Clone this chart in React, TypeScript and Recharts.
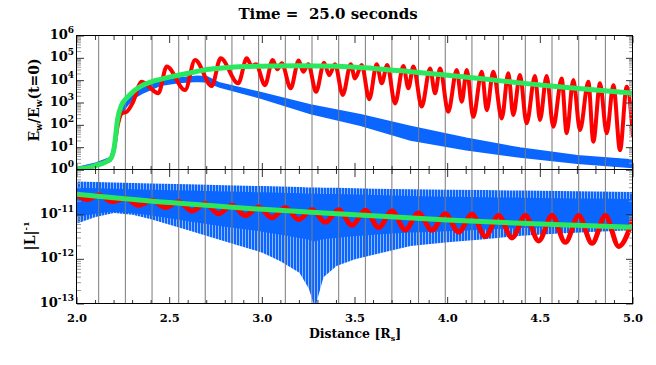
import React from 'react'
import { ComposedChart, Line, Area, XAxis, YAxis, ReferenceLine } from 'recharts'

// vertical wavelength markers (distance in R_s)
const markerX = [
  2.117, 2.261, 2.405, 2.549, 2.692, 2.836, 2.98, 3.124, 3.268, 3.412,
  3.556, 3.699, 3.843, 3.987, 4.131, 4.275, 4.419, 4.563, 4.707, 4.851,
]

const xTicks = [
  2.0, 2.1, 2.2, 2.3, 2.4, 2.5, 2.6, 2.7, 2.8, 2.9, 3.0, 3.1, 3.2, 3.3, 3.4, 3.5,
  3.6, 3.7, 3.8, 3.9, 4.0, 4.1, 4.2, 4.3, 4.4, 4.5, 4.6, 4.7, 4.8, 4.9, 5.0,
]
const xLabels = [2.0, 2.5, 3.0, 3.5, 4.0, 4.5, 5.0]

const topDecades = [0, 1, 2, 3, 4, 5, 6]
const botDecades = [-13, -12, -11, -10]
const botLabeled = [-13, -12, -11]

// top panel, log10(E_w / E_w(t=0)) : [distance, exponent]
const topGreen: [number, number][] = [
  [2.0, 0.03], [2.1, 0.2], [2.18, 0.49], [2.2, 0.97], [2.22, 2.32], [2.24, 2.9],
  [2.27, 3.24], [2.3, 3.49], [2.35, 3.78], [2.4, 3.95], [2.45, 4.06], [2.5, 4.16],
  [2.6, 4.33], [2.7, 4.5], [2.8, 4.58], [2.9, 4.63], [3.0, 4.65], [3.2, 4.67],
  [3.4, 4.65], [3.6, 4.55], [3.8, 4.4], [4.0, 4.24], [4.2, 4.07], [4.4, 3.89],
  [4.6, 3.73], [4.8, 3.58], [5.0, 3.44],
]

const topRed: [number, number][] = [
  [2.0, 0.03], [2.1, 0.2], [2.18, 0.49], [2.2, 0.97], [2.22, 2.0], [2.24, 2.52],
  [2.27, 2.62], [2.3, 3.0], [2.349, 3.95], [2.439, 3.44], [2.484, 4.63], [2.583, 3.58],
  [2.637, 4.93], [2.727, 3.76], [2.775, 5.0], [2.87, 3.88], [2.916, 5.0], [2.943, 4.65],
  [2.966, 4.74], [3.014, 3.8], [3.056, 4.93], [3.081, 4.51], [3.105, 4.78], [3.153, 3.66],
  [3.196, 4.9], [3.221, 4.4], [3.248, 4.74], [3.29, 3.5], [3.333, 4.8], [3.361, 4.25],
  [3.392, 4.74], [3.434, 3.36], [3.477, 4.74], [3.5, 4.1], [3.536, 4.7], [3.577, 3.17],
  [3.617, 4.74], [3.644, 3.88], [3.674, 4.7], [3.716, 2.98], [3.761, 4.66], [3.788, 3.66],
  [3.815, 4.63], [3.86, 2.84], [3.905, 4.55], [3.932, 3.44], [3.959, 4.55], [4.003, 2.61],
  [4.049, 4.48], [4.076, 3.06], [4.103, 4.48], [4.138, 2.38], [4.184, 4.4], [4.211, 2.68],
  [4.246, 4.4], [4.292, 2.31], [4.327, 4.33], [4.354, 2.46], [4.39, 4.25], [4.426, 2.09],
  [4.471, 4.21], [4.498, 2.24], [4.534, 4.21], [4.57, 1.94], [4.615, 4.1], [4.642, 1.65],
  [4.678, 4.03], [4.714, 1.79], [4.759, 3.95], [4.786, 1.27], [4.822, 3.88], [4.858, 1.65],
  [4.894, 3.8], [4.93, 0.89], [4.966, 3.73], [5.0, 1.49],
]

// [distance, upper exponent, lower exponent]
const topBlue: [number, number, number][] = [
  [2.0, 0.1, 0.0], [2.1, 0.29, 0.18], [2.18, 0.54, 0.39], [2.2, 1.07, 0.78],
  [2.22, 2.23, 2.03], [2.24, 2.71, 2.52], [2.27, 3.1, 2.9], [2.3, 3.39, 3.19],
  [2.35, 3.66, 3.44], [2.45, 3.99, 3.8], [2.55, 4.11, 3.93], [2.65, 4.19, 3.99],
  [2.7, 4.16, 3.95], [2.77, 3.88, 3.73], [3.0, 3.44, 3.21], [3.26, 2.9, 2.54],
  [3.53, 2.46, 2.01], [3.8, 1.94, 1.35], [4.1, 1.41, 0.92], [4.39, 0.97, 0.59],
  [4.7, 0.63, 0.31], [5.0, 0.44, 0.12],
]

// bottom panel, log10(|L|^-1)
const botGreen: [number, number][] = [
  [2.0, -10.54], [2.5, -10.73], [3.0, -10.88], [3.5, -11.0], [4.0, -11.12], [4.5, -11.21], [5.0, -11.28],
]

const botRed: [number, number][] = [
  [2.0, -10.56], [2.056, -10.66], [2.117, -10.56], [2.189, -10.71], [2.261, -10.64],
  [2.333, -10.79], [2.405, -10.68], [2.477, -10.84], [2.549, -10.71], [2.62, -10.92],
  [2.692, -10.75], [2.764, -10.98], [2.836, -10.79], [2.908, -11.02], [2.98, -10.83],
  [3.052, -11.07], [3.124, -10.84], [3.196, -11.11], [3.268, -10.89], [3.34, -11.17],
  [3.412, -10.89], [3.484, -11.24], [3.556, -10.9], [3.628, -11.29], [3.699, -10.92],
  [3.771, -11.34], [3.843, -10.96], [3.915, -11.35], [3.987, -10.98], [4.059, -11.39],
  [4.131, -10.99], [4.203, -11.49], [4.275, -11.02], [4.347, -11.52], [4.419, -11.02],
  [4.491, -11.59], [4.563, -11.02], [4.635, -11.62], [4.707, -11.02], [4.779, -11.64],
  [4.851, -11.02], [4.923, -11.71], [5.0, -11.09],
]

// [distance, upper, dense upper, dense lower, lower]
const botBlue: [number, number, number, number, number][] = [
  [2.0, -10.26, -10.4, -11.05, -11.2], [2.1, -10.27, -10.41, -10.98, -11.05],
  [2.2, -10.28, -10.42, -10.94, -10.96], [2.3, -10.29, -10.43, -10.97, -11.0],
  [2.4, -10.3, -10.44, -11.02, -11.1], [2.6, -10.32, -10.46, -11.15, -11.35],
  [2.8, -10.34, -10.48, -11.27, -11.6], [3.0, -10.36, -10.5, -11.38, -11.85],
  [3.1, -10.37, -10.51, -11.45, -12.05], [3.2, -10.38, -10.52, -11.52, -12.3],
  [3.25, -10.39, -10.53, -11.56, -12.65], [3.285, -10.39, -10.53, -11.6, -13.1],
  [3.3, -10.39, -10.53, -11.58, -12.85], [3.33, -10.4, -10.54, -11.55, -12.4],
  [3.4, -10.4, -10.54, -11.52, -12.15], [3.5, -10.41, -10.55, -11.48, -12.0],
  [3.6, -10.42, -10.56, -11.45, -11.9], [3.8, -10.43, -10.58, -11.4, -11.7],
  [4.0, -10.44, -10.6, -11.37, -11.62], [4.2, -10.45, -10.61, -11.33, -11.55],
  [4.4, -10.46, -10.62, -11.3, -11.47], [4.6, -10.47, -10.63, -11.27, -11.42],
  [4.8, -10.48, -10.64, -11.25, -11.38], [5.0, -10.49, -10.65, -11.23, -11.35],
]

const FONT = "'DejaVu Serif', serif"
const RED = '#ff0000'
const GREEN = '#2ae85e'
const BLUE = '#0a66ff'
const GRID = '#7a7a7a'

// plot box in page pixels
const PL = 77
const PR = 633
const TOP_T = 36
const TOP_B = 170
const BOT_T = 170
const BOT_B = 304

const lineData = (pts: [number, number][]) => pts.map(([x, e]) => ({ x, y: 10 ** e }))

const logTicks = (decades: number[]) =>
  decades.flatMap((k, i) =>
    i === decades.length - 1 ? [10 ** k] : [1, 2, 3, 4, 5, 6, 7, 8, 9].map((m) => m * 10 ** k)
  )

const yTick = (labeled: number[]) => (p: any) => {
  const v = p.payload.value
  const e = Math.round(Math.log10(v))
  const major = Math.abs(v / 10 ** e - 1) < 1e-6
  const len = major ? 7 : 4
  const c = major ? '#333' : '#999'
  return (
    <g>
      <line x1={PL} x2={PL + len} y1={p.y} y2={p.y} stroke={c} />
      <line x1={PR} x2={PR - len} y1={p.y} y2={p.y} stroke={c} />
      {major && labeled.includes(e) && (
        <text x={PL - 3} y={p.y + 3} textAnchor="end" fontFamily={FONT} fontWeight="bold" fontSize={13} fill="#000">
          10<tspan dy={-6} fontSize={9}>{e}</tspan>
        </text>
      )}
    </g>
  )
}

const xTick = (top: number, bottom: number, labels: boolean) => (p: any) => {
  const v = p.payload.value
  const major = xLabels.some((m) => Math.abs(m - v) < 1e-6)
  const len = major ? 7 : 4
  return (
    <g>
      <line x1={p.x} x2={p.x} y1={bottom} y2={bottom - len} stroke="#333" />
      <line x1={p.x} x2={p.x} y1={top} y2={top + len} stroke="#333" />
      {labels && major && (
        <text x={p.x} y={bottom + 18} textAnchor="middle" fontFamily={FONT} fontWeight="bold" fontSize={11.5} fill="#000">
          {v.toFixed(1)}
        </text>
      )}
    </g>
  )
}

export default function App() {
  const greenTop = lineData(topGreen)
  const redTop = lineData(topRed)
  const blueTop = topBlue.map(([x, hi, lo]) => ({ x, r: [10 ** lo, 10 ** hi] }))

  const greenBot = lineData(botGreen)
  const redBot = lineData(botRed)
  const blueBotOuter = botBlue.map(([x, hi, , , lo]) => ({ x, r: [10 ** lo, 10 ** hi] }))
  const blueBotCore = botBlue.map(([x, , ch, cl]) => ({ x, r: [10 ** cl, 10 ** ch] }))

  return (
    <div style={{ position: 'absolute', left: 0, top: 0, width: 656, height: 365, background: '#fff' }}>
      {/* upper panel */}
      <div style={{ position: 'absolute', left: 0, top: 0 }}>
        <ComposedChart width={656} height={175} margin={{ top: TOP_T, right: 656 - PR, bottom: 0, left: PL - 60 }}>
          <XAxis
            dataKey="x"
            type="number"
            domain={[2, 5]}
            ticks={xTicks}
            interval={0}
            height={175 - TOP_B}
            axisLine={false}
            tickLine={false}
            tick={xTick(TOP_T, TOP_B, false)}
            allowDataOverflow
          />
          <YAxis
            type="number"
            scale="log"
            domain={[1, 1e6]}
            ticks={logTicks(topDecades)}
            interval={0}
            width={60}
            axisLine={false}
            tickLine={false}
            tick={yTick(topDecades)}
            allowDataOverflow
          />
          {markerX.map((v) => (
            <ReferenceLine key={v} x={v} stroke={GRID} strokeWidth={1} />
          ))}
          <Area
            data={blueTop}
            dataKey="r"
            type="linear"
            fill={BLUE}
            fillOpacity={1}
            stroke={BLUE}
            strokeWidth={2}
            isAnimationActive={false}
          />
          <Line data={redTop} dataKey="y" type="monotone" stroke={RED} strokeWidth={4} dot={false} isAnimationActive={false} />
          <Line data={greenTop} dataKey="y" type="monotone" stroke={GREEN} strokeWidth={5} dot={false} isAnimationActive={false} />
        </ComposedChart>
      </div>

      {/* lower panel */}
      <div style={{ position: 'absolute', left: 0, top: 0 }}>
        <ComposedChart width={656} height={365} margin={{ top: BOT_T, right: 656 - PR, bottom: 0, left: PL - 60 }}>
          <defs>
            <pattern id="blueStripes" width="3" height="10" patternUnits="userSpaceOnUse">
              <rect x="0" y="0" width="3" height="10" fill={BLUE} />
              <rect x="2" y="0" width="1" height="10" fill="#8db8ff" />
            </pattern>
          </defs>
          <XAxis
            dataKey="x"
            type="number"
            domain={[2, 5]}
            ticks={xTicks}
            interval={0}
            height={365 - BOT_B}
            axisLine={false}
            tickLine={false}
            tick={xTick(BOT_T, BOT_B, true)}
            allowDataOverflow
          />
          <YAxis
            type="number"
            scale="log"
            domain={[1e-13, 1e-10]}
            ticks={logTicks(botDecades)}
            interval={0}
            width={60}
            axisLine={false}
            tickLine={false}
            tick={yTick(botLabeled)}
            allowDataOverflow
          />
          <Area
            data={blueBotOuter}
            dataKey="r"
            type="linear"
            fill="url(#blueStripes)"
            fillOpacity={1}
            stroke="none"
            isAnimationActive={false}
          />
          <Area
            data={blueBotCore}
            dataKey="r"
            type="monotone"
            fill={BLUE}
            fillOpacity={1}
            stroke="none"
            isAnimationActive={false}
          />
          {markerX.map((v) => (
            <ReferenceLine key={v} x={v} stroke={GRID} strokeWidth={1} />
          ))}
          <Line data={redBot} dataKey="y" type="monotone" stroke={RED} strokeWidth={5} dot={false} isAnimationActive={false} />
          <Line data={greenBot} dataKey="y" type="monotone" stroke={GREEN} strokeWidth={5} dot={false} isAnimationActive={false} />
        </ComposedChart>
      </div>

      {/* frames, title and axis titles */}
      <svg width={656} height={365} style={{ position: 'absolute', left: 0, top: 0, pointerEvents: 'none' }}>
        <rect x={PL - 0.5} y={TOP_T - 0.5} width={PR - PL} height={TOP_B - TOP_T} fill="none" stroke="#000" />
        <rect x={PL - 0.5} y={BOT_T - 0.5} width={PR - PL} height={BOT_B - BOT_T} fill="none" stroke="#000" />
        <text x={328} y={18.5} textAnchor="middle" fontFamily={FONT} fontWeight="bold" fontSize={15} style={{ whiteSpace: 'pre' }}>
          Time =  25.0 seconds
        </text>
        <text x={355} y={338} textAnchor="middle" fontFamily={FONT} fontWeight="bold" fontSize={12.5}>
          Distance [R<tspan dy={3} fontSize={8}>s</tspan>
          <tspan dy={-3}>]</tspan>
        </text>
        <text transform="translate(39,100) rotate(-90)" textAnchor="middle" fontFamily={FONT} fontWeight="bold" fontSize={14}>
          E<tspan dy={3} fontSize={9}>w</tspan>
          <tspan dy={-3}>/E</tspan>
          <tspan dy={3} fontSize={9}>w</tspan>
          <tspan dy={-3}>(t=0)</tspan>
        </text>
        <text transform="translate(35,236) rotate(-90)" textAnchor="middle" fontFamily={FONT} fontWeight="bold" fontSize={14}>
          |L|<tspan dy={-6} fontSize={8}>-1</tspan>
        </text>
      </svg>
    </div>
  )
}
